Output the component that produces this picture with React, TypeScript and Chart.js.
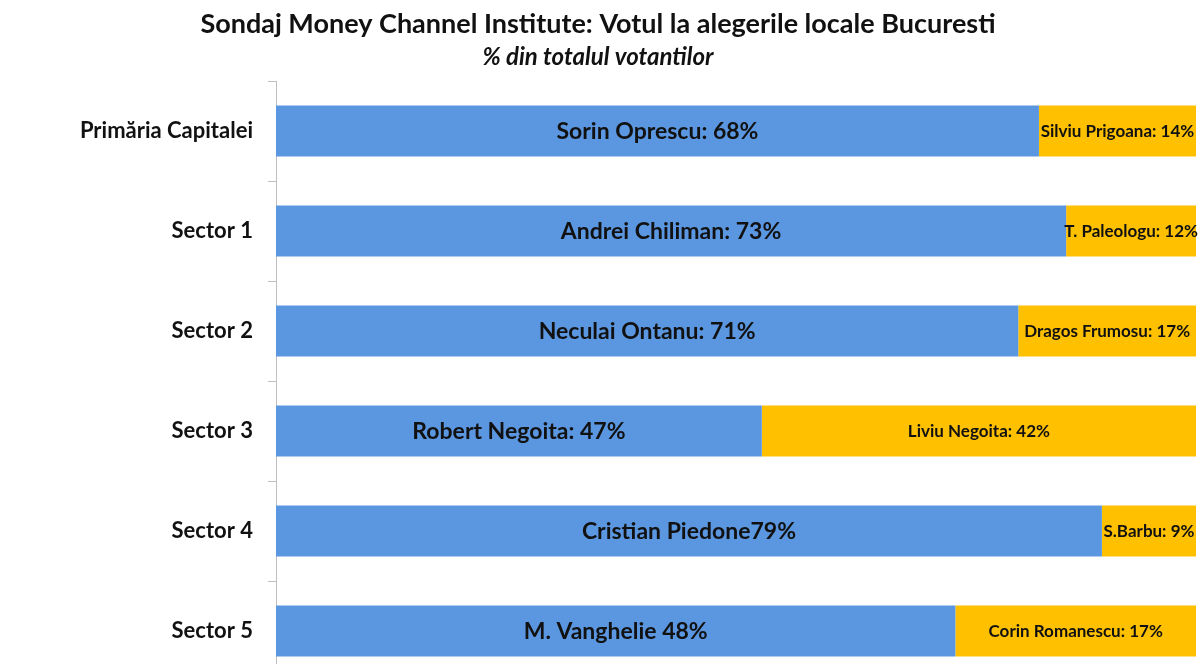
import { useEffect, useRef } from 'react';
import { Chart, registerables } from 'chart.js';

Chart.register(...registerables);

const categories = ['Primăria Capitalei', 'Sector 1', 'Sector 2', 'Sector 3', 'Sector 4', 'Sector 5'];
const winnerVotes = [68, 73, 71, 47, 79, 48];
const runnerUpVotes = [14, 12, 17, 42, 9, 17];
const winnerLabels = [
  'Sorin Oprescu: 68%',
  'Andrei Chiliman: 73%',
  'Neculai Ontanu: 71%',
  'Robert Negoita: 47%',
  'Cristian Piedone79%',
  'M. Vanghelie 48%',
];
const runnerUpLabels = [
  'Silviu Prigoana: 14%',
  'T. Paleologu: 12%',
  'Dragos Frumosu: 17%',
  'Liviu Negoita: 42%',
  'S.Barbu: 9%',
  'Corin Romanescu: 17%',
];

const FONT = 'Lato, "Open Sans", sans-serif';

// bars are drawn as share of the two candidates together (each row fills the width)
const toShare = (a: number[], b: number[]) => a.map((v, i) => (v / (v + b[i])) * 100);

const barLabels = {
  id: 'barLabels',
  afterDatasetsDraw(chart: any) {
    const { ctx } = chart;
    const sets = [
      { texts: winnerLabels, font: `bold 23px ${FONT}` },
      { texts: runnerUpLabels, font: `bold 17px ${FONT}` },
    ];
    ctx.save();
    ctx.fillStyle = '#111';
    ctx.textAlign = 'center';
    ctx.textBaseline = 'middle';
    sets.forEach((s, di) => {
      ctx.font = s.font;
      chart.getDatasetMeta(di).data.forEach((bar: any, i: number) => {
        const { x, base, y } = bar.getProps(['x', 'base', 'y'], true);
        ctx.fillText(s.texts[i], (x + base) / 2, y + 1);
      });
    });
    ctx.restore();
  },
};

export default function App() {
  const chartRef = useRef<HTMLCanvasElement>(null);
  const chartInstance = useRef<Chart | null>(null);

  useEffect(() => {
    if (!chartRef.current) return;
    const ctx = chartRef.current.getContext('2d');
    if (!ctx) return;

    if (chartInstance.current) {
      chartInstance.current.destroy();
    }

    chartInstance.current = new Chart(ctx, {
      type: 'bar',
      data: {
        labels: categories,
        datasets: [
          {
            label: 'Castigator',
            data: toShare(winnerVotes, runnerUpVotes),
            backgroundColor: '#5b97e0',
            barPercentage: 0.51,
            categoryPercentage: 1,
          },
          {
            label: 'Locul 2',
            data: toShare(runnerUpVotes, winnerVotes),
            backgroundColor: '#ffc000',
            barPercentage: 0.51,
            categoryPercentage: 1,
          },
        ],
      },
      options: {
        indexAxis: 'y',
        animation: false,
        responsive: false,
        maintainAspectRatio: false,
        layout: { padding: { left: 0, right: 4, top: 0, bottom: 0 } },
        plugins: {
          legend: { display: false },
          tooltip: { enabled: false },
          title: {
            display: true,
            text: 'Sondaj Money Channel Institute: Votul la alegerile locale Bucuresti',
            color: '#111',
            font: { family: FONT, size: 27, weight: 'bold' },
            padding: { top: 8, bottom: 2 },
          },
          subtitle: {
            display: true,
            text: '% din totalul votantilor',
            color: '#111',
            font: { family: FONT, size: 24, weight: 'bold', style: 'italic' },
            padding: { top: 0.2, bottom: 9.6 },
          },
        },
        scales: {
          x: {
            stacked: true,
            min: 0,
            max: 100,
            display: false,
          },
          y: {
            stacked: true,
            afterFit: (scale: any) => {
              scale.width = 276;
              // labels sit in the middle of each band, no extra room needed above/below
              scale.paddingTop = 0;
              scale.paddingBottom = 0;
            },
            grid: {
              display: true,
              drawOnChartArea: false,
              tickLength: 8,
              color: '#bfbfbf',
            },
            border: { color: '#bfbfbf' },
            ticks: {
              color: '#111',
              padding: 15,
              font: { family: FONT, size: 22, weight: 'bold' },
            },
          },
        },
      },
      plugins: [barLabels],
    });

    return () => {
      if (chartInstance.current) {
        chartInstance.current.destroy();
        chartInstance.current = null;
      }
    };
  }, []);

  return (
    <div style={{ position: 'fixed', inset: 0, overflow: 'hidden', background: '#fff' }}>
      <canvas ref={chartRef} width={1200} height={681} style={{ display: 'block' }}></canvas>
    </div>
  );
}
